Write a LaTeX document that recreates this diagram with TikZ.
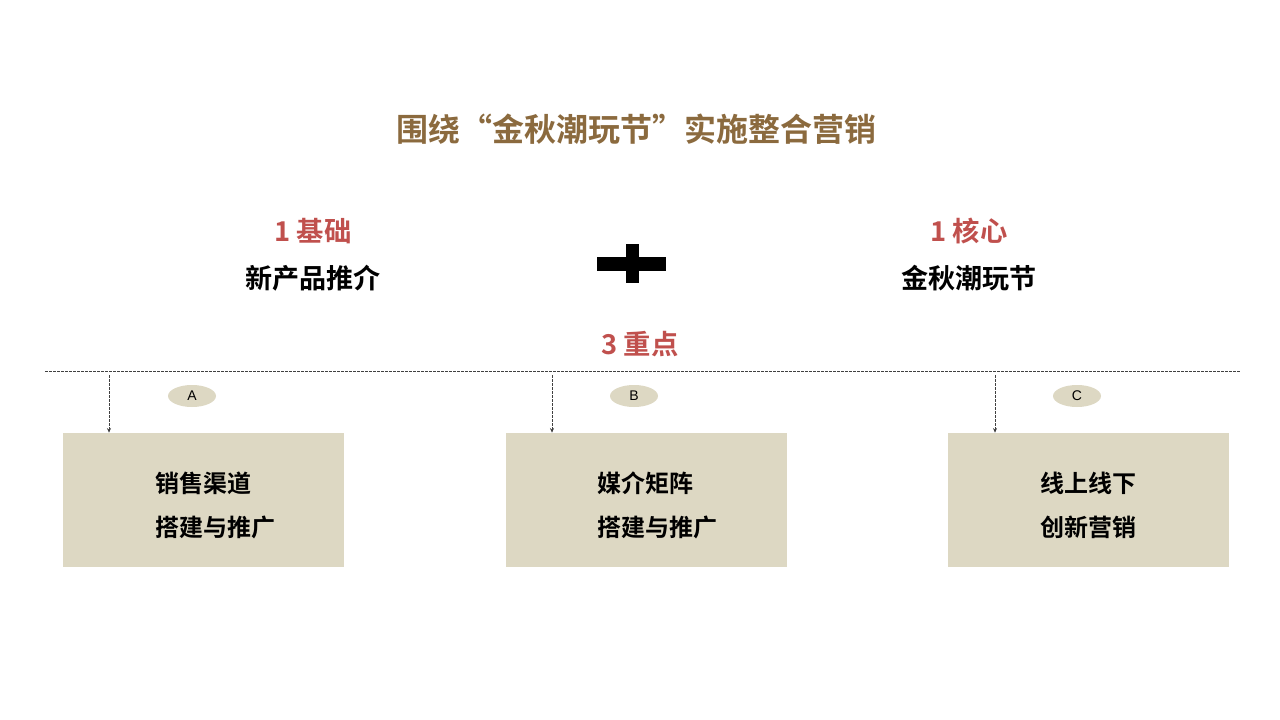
\documentclass[tikz,border=0pt]{standalone}
\usepackage{fontspec}
\setmainfont{Liberation Sans}
\newfontfamily\cjk{Noto Sans CJK SC}
\newfontfamily\cjkb{Noto Sans CJK SC Bold}
\usetikzlibrary{arrows.meta,shapes.geometric}
\definecolor{titlec}{HTML}{8B6A3E}
\definecolor{redc}{HTML}{C0504D}
\definecolor{boxc}{HTML}{DDD8C3}
\tikzset{
  ttl/.style={font=\cjkb\fontsize{24}{28}\selectfont, text=titlec, inner sep=0pt},
  redt/.style={font=\cjkb\fontsize{20.5}{24}\selectfont, text=redc, inner sep=0pt},
  blkt/.style={font=\cjkb\fontsize{20.3}{24}\selectfont, text=black, inner sep=0pt},
  bx/.style={fill=boxc, draw=none, minimum width=210.75pt, minimum height=100.5pt, inner sep=0pt},
  bxt/.style={font=\cjkb\fontsize{18}{33}\selectfont, align=left, inner sep=0pt, anchor=west},
  lbl/.style={ellipse, fill=boxc, minimum width=36pt, minimum height=16.5pt, inner sep=0pt, font=\fontsize{10.5}{12}\selectfont},
  dline/.style={dash pattern=on 2pt off 1pt, line width=0.6pt, draw=black!75},
  darr/.style={dash pattern=on 2pt off 1pt, line width=0.6pt, draw=black!75, -{Stealth[length=3.5pt,width=3pt]}},
}
\begin{document}
\begin{tikzpicture}[x=0.75pt,y=-0.75pt]
\useasboundingbox (0,0) rectangle (1280,720);
\fill[white] (0,0) rectangle (1280,720);
\node[ttl] (title) at (636,129) {围绕“金秋潮玩节”实施整合营销};
\node[redt] (r1) at (313,231) {1 基础};
\node[blkt] (b1) at (313,278) {新产品推介};
\node[redt] (r2) at (969,231) {1 核心};
\node[blkt] (b2) at (969,278) {金秋潮玩节};
\node[redt] (r3) at (640,344) {3 重点};
% plus sign
\fill[black] (597,257) rectangle (666,271);
\fill[black] (626,244) rectangle (639,283);
% dashed horizontal
\coordinate (hl) at (45,371);
\coordinate (hr) at (1240,371);
\draw[dline] (hl) -- (hr);
% boxes
\node[bx] (boxA) at (203.5,500) {};
\node[bx] (boxB) at (646,500) {};
\node[bx] (boxC) at (1088,500) {};
\node[bxt] (tA) at (155,505) {销售渠道\\搭建与推广};
\node[bxt] (tB) at (597,505) {媒介矩阵\\搭建与推广};
\node[bxt] (tC) at (1040,505) {线上线下\\创新营销};
% labels
\node[lbl] (eA) at (192,396) {A};
\node[lbl] (eB) at (634,396) {B};
\node[lbl] (eC) at (1077,396) {C};
% arrows
\coordinate (sA) at (109,375);
\coordinate (sB) at (552,375);
\coordinate (sC) at (995,375);
\draw[darr] (sA) -- (sA |- boxA.north);
\draw[darr] (sB) -- (sB |- boxB.north);
\draw[darr] (sC) -- (sC |- boxC.north);
\end{tikzpicture}
\end{document}
